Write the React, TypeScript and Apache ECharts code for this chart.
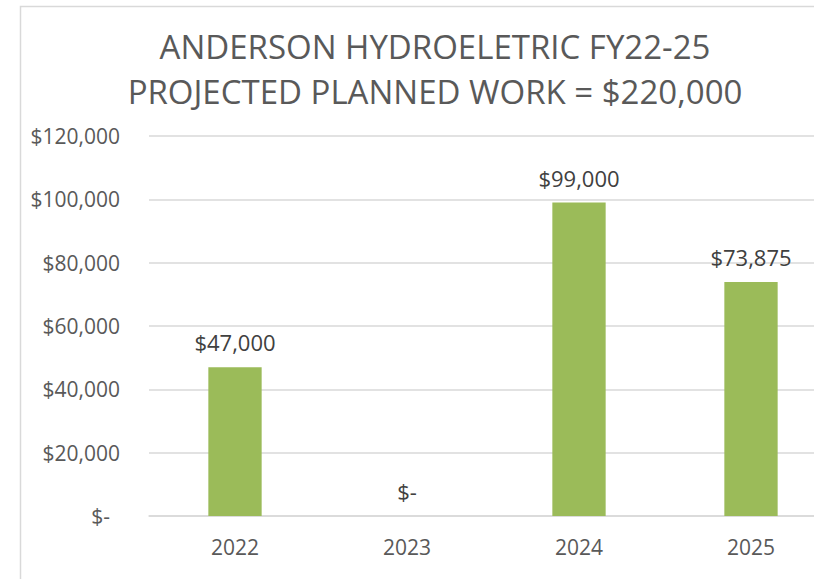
import React, { useEffect, useRef } from "react";
import * as echarts from "echarts";

const categories = ["2022", "2023", "2024", "2025"];
const values = [47000, 0, 99000, 73875];
const titleLines = ["ANDERSON HYDROELETRIC FY22-25", "PROJECTED PLANNED WORK = $220,000"];
const yMin = 0;
const yMax = 120000;
const yInterval = 20000;

const FONT = "'Open Sans', 'Noto Sans', sans-serif";

function money(v: number): string {
  if (v === 0) return "$-";
  return "$" + v.toLocaleString("en-US");
}

export default function App() {
  const ref = useRef<HTMLDivElement>(null);
  useEffect(() => {
    if (!ref.current) return;
    const chart = echarts.init(ref.current, undefined, { renderer: "svg" });
    chart.setOption({
      animation: false,
      backgroundColor: "#ffffff",
      textStyle: { fontFamily: FONT },
      title: {
        text: titleLines.join("\n"),
        left: 430,
        top: 19,
        textAlign: "center",
        textStyle: {
          fontFamily: FONT,
          fontSize: 33,
          fontWeight: "normal",
          color: "#595959",
          lineHeight: 45,
        },
      },
      graphic: [
        {
          type: "rect",
          shape: { x: 20.5, y: 6.5, width: 1000, height: 1000 },
          style: { fill: "none", stroke: "#d9d9d9", lineWidth: 1.5 },
          silent: true,
          z: -1,
        },
      ],
      grid: { left: 149, top: 136, right: 63, height: 380, containLabel: false },
      xAxis: {
        type: "category",
        data: categories,
        axisLine: { show: true, lineStyle: { color: "#d9d9d9", width: 1.5 } },
        axisTick: { show: false },
        axisLabel: { color: "#595959", fontSize: 21, fontFamily: FONT, margin: 20 },
      },
      yAxis: {
        type: "value",
        min: yMin,
        max: yMax,
        interval: yInterval,
        axisLine: { show: false },
        axisTick: { show: false },
        splitLine: { lineStyle: { color: "#d9d9d9", width: 1.5 } },
        axisLabel: {
          color: "#595959",
          fontSize: 21,
          fontFamily: FONT,
          margin: 29,
          formatter: (v: number) => (v === 0 ? "{z|$-}" : money(v)),
          rich: {
            z: { color: "#595959", fontSize: 21, fontFamily: FONT, padding: [0, 10, 0, 0] },
          },
        },
      },
      series: [
        {
          type: "bar",
          data: values,
          barWidth: "31%",
          itemStyle: { color: "#9BBB59" },
          label: {
            show: true,
            position: "top",
            distance: 14,
            color: "#404040",
            fontSize: 22,
            fontFamily: FONT,
            formatter: (p: any) => money(p.value),
          },
        },
      ],
    });
    return () => chart.dispose();
  }, []);
  return (
    <div
      style={{
        position: "absolute",
        left: 0,
        top: 0,
        width: 814,
        height: 579,
        overflow: "hidden",
        background: "#ffffff",
      }}
    >
      <div ref={ref} style={{ width: 900, height: 579 }} />
    </div>
  );
}
